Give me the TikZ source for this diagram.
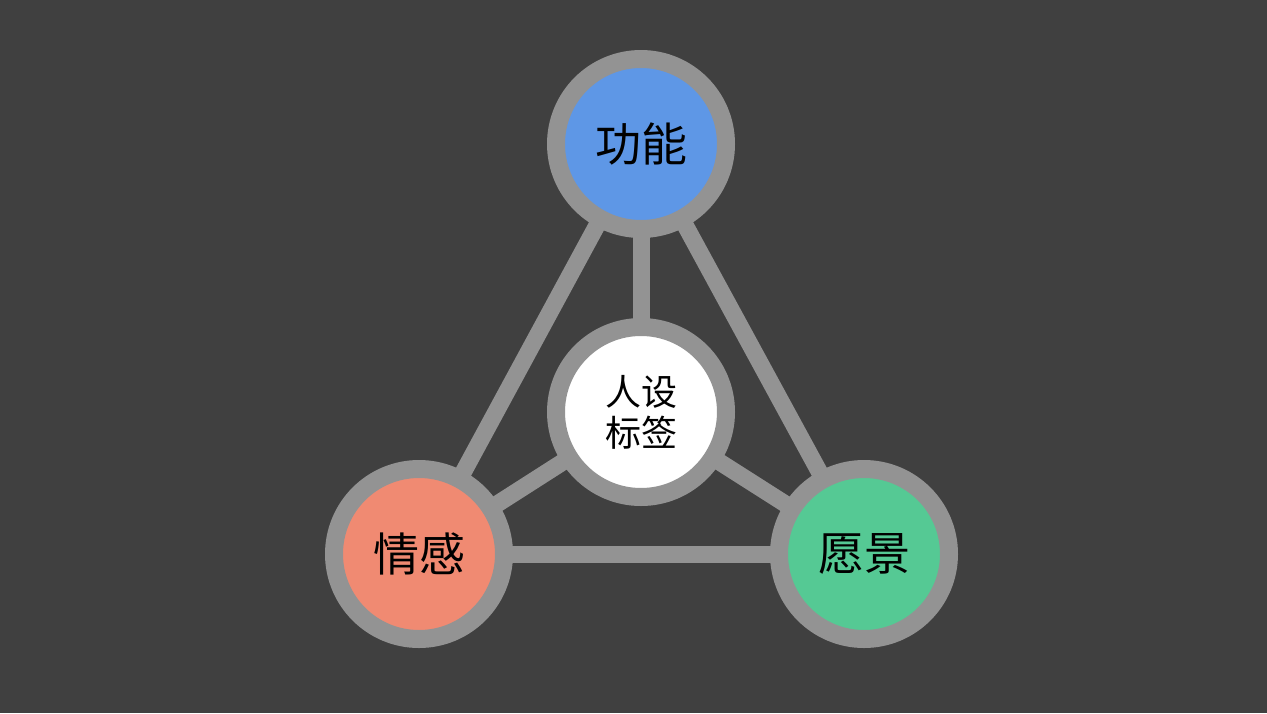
\documentclass[tikz,border=0pt]{standalone}
\usepackage{fontspec}
\setmainfont{Noto Sans CJK SC}
\definecolor{bgc}{HTML}{404040}
\definecolor{ringc}{HTML}{939393}
\definecolor{bluec}{HTML}{5E97E6}
\definecolor{orangec}{HTML}{F08A72}
\definecolor{greenc}{HTML}{55C994}
\pgfdeclarelayer{bglayer}
\pgfdeclarelayer{edges}
\pgfsetlayers{bglayer,edges,main}
\begin{document}
\begin{tikzpicture}[x=1pt,y=-1pt,
  ball/.style={circle,draw=ringc,line width=18pt,minimum size=170pt,inner sep=0pt,align=center,text=black},
  link/.style={draw=ringc,line width=17pt}]
\begin{pgfonlayer}{bglayer}
\fill[bgc] (0,0) rectangle (1267,713);
\end{pgfonlayer}
\useasboundingbox (0,0) rectangle (1267,713);
\node[ball,fill=bluec,font=\fontsize{46}{50}\selectfont] (top) at (641,144) {功能};
\node[ball,fill=white,font=\fontsize{36}{41}\selectfont] (mid) at (641,412) {人设\\标签};
\node[ball,fill=orangec,font=\fontsize{46}{50}\selectfont] (left) at (419,554) {情感};
\node[ball,fill=greenc,font=\fontsize{46}{50}\selectfont] (right) at (864,554) {愿景};
\begin{pgfonlayer}{edges}
\draw[link] (top.center) -- (left.center);
\draw[link] (top.center) -- (right.center);
\draw[link] (top.center) -- (mid.center);
\draw[link] (mid.center) -- (left.center);
\draw[link] (mid.center) -- (right.center);
\draw[link] (left.center) -- (right.center);
\end{pgfonlayer}
\end{tikzpicture}
\end{document}
